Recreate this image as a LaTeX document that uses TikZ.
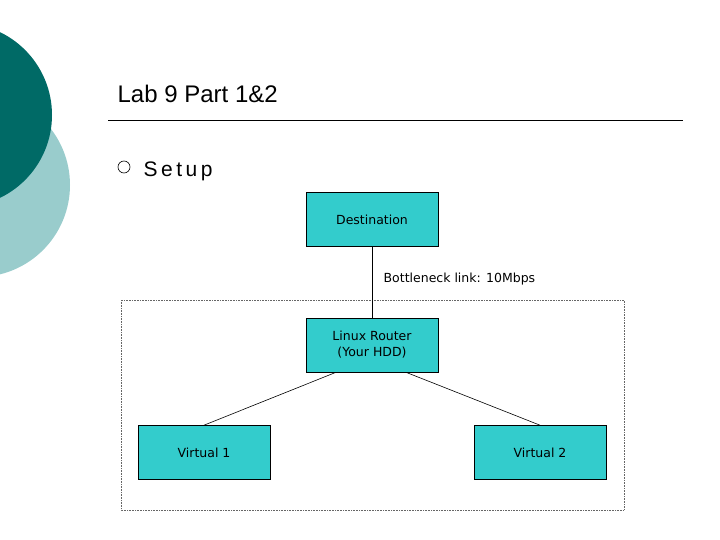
\documentclass[tikz,border=0pt]{standalone}
\usepackage{fontspec}
\setmainfont{Liberation Sans}
\newfontfamily\boxfont{DejaVu Sans}
\usetikzlibrary{positioning}
\definecolor{darkteal}{HTML}{006A66}
\definecolor{lightteal}{HTML}{99CCCC}
\definecolor{boxteal}{HTML}{33CCCC}
\tikzset{
    hostbox/.style = {draw, fill = boxteal, minimum width = 132pt, minimum height = 54pt,
                      align = center, font = \boxfont\fontsize{12.5}{16}\selectfont, inner sep = 2pt},
}
\begin{document}
\begin{tikzpicture}[x = 1pt, y = -1pt, line width = 0.6pt]

    \useasboundingbox (0,0) rectangle (720,540);

    % background circles
    \fill[lightteal] (-22,185) circle (92);
    \fill[darkteal] (-40,115) circle (92);

    % title
    \node (title) [anchor = base west, font = \fontsize{24}{28}\selectfont] at (114,103) {Lab 9 Part 1\&2};
    \draw (108,120) -- (683,120);
    \draw (124,167) circle (6);
    \node (setup) [anchor = base west, font = \fontsize{21}{26}\selectfont] at (140,177) {S\,e\,t\,u\,p};

    % network
    \draw[densely dotted, black!60] (121,300) rectangle (624,510);

    \node (dest) [hostbox] at (372,219.5) {Destination};
    \node (router) [hostbox] at (372,345) {Linux Router\\(Your HDD)};
    \node (v1) [hostbox] at (204,452.5) {Virtual 1};
    \node (v2) [hostbox] at (540,452.5) {Virtual 2};

    \draw (dest) -- (router)
        node [pos = 0.45, right, xshift = 8pt, font = \boxfont\fontsize{12.5}{16}\selectfont] {Bottleneck link: 10Mbps};
    \draw (router.south) ++(-36,0) coordinate (r1) -- (v1.north);
    \draw (router.south) ++(34,0) coordinate (r2) -- (v2.north);

\end{tikzpicture}
\end{document}
